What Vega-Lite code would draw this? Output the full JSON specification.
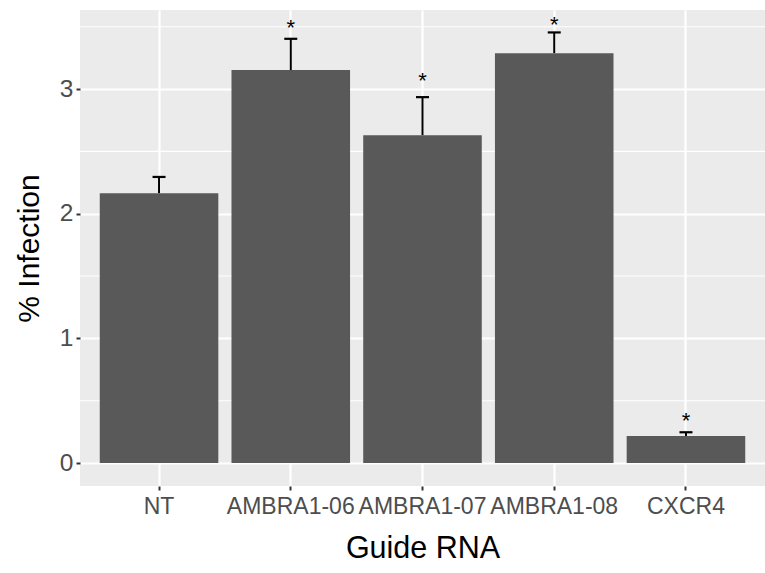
{
  "$schema": "https://vega.github.io/schema/vega-lite/v6.json",
  "width": 685,
  "height": 476,
  "autosize": {"type": "none"},
  "padding": {"left": 80, "top": 10, "right": 0, "bottom": 87},
  "background": "white",
  "config": {
    "view": {"fill": "#EBEBEB", "stroke": null},
    "font": "Liberation Sans"
  },
  "data": {
    "values": [
      {"guide": "NT", "val": 2.165, "upper": 2.295, "sig": "", "star": 2.4},
      {"guide": "AMBRA1-06", "val": 3.152, "upper": 3.403, "sig": "*", "star": 3.53},
      {"guide": "AMBRA1-07", "val": 2.63, "upper": 2.935, "sig": "*", "star": 3.11},
      {"guide": "AMBRA1-08", "val": 3.288, "upper": 3.454, "sig": "*", "star": 3.56},
      {"guide": "CXCR4", "val": 0.217, "upper": 0.247, "sig": "*", "star": 0.38}
    ]
  },
  "layer": [
    {
      "data": {"values": [{"m": 0.5}, {"m": 1.5}, {"m": 2.5}, {"m": 3.5}]},
      "mark": {"type": "rule", "color": "white", "strokeWidth": 1.1},
      "encoding": {
        "y": {
          "field": "m", "type": "quantitative",
          "scale": {"domain": [-0.184, 3.634], "nice": false, "zero": false},
          "axis": {
            "title": "% Infection", "values": [0, 1, 2, 3], "format": "d",
            "grid": true, "gridColor": "white", "gridWidth": 2.2,
            "domain": false, "tickColor": "#333333", "tickSize": 4, "tickWidth": 2,
            "labelFontSize": 24.5, "labelColor": "#4D4D4D", "labelPadding": 3,
            "titleFontSize": 30, "titleFontWeight": "normal", "titleColor": "black", "titlePadding": 15
          }
        }
      }
    },
    {
      "mark": {"type": "bar", "color": "#595959"},
      "encoding": {
        "x": {
          "field": "guide", "type": "nominal", "sort": null,
          "scale": {"paddingInner": 0.1, "paddingOuter": 0.15},
          "axis": {
            "title": "Guide RNA", "labelAngle": 0, "bandPosition": 0.5,
            "grid": true, "gridColor": "white", "gridWidth": 2.2,
            "domain": false, "tickColor": "#333333", "tickSize": 4, "tickWidth": 2,
            "labelFontSize": 23, "labelColor": "#4D4D4D", "labelPadding": 5,
            "titleFontSize": 30.5, "titleFontWeight": "normal", "titleColor": "black", "titlePadding": 15
          }
        },
        "y": {
          "field": "val", "type": "quantitative",
          "scale": {"domain": [-0.184, 3.634], "nice": false, "zero": false}
        }
      }
    },
    {
      "mark": {"type": "rule", "color": "black", "strokeWidth": 2},
      "encoding": {
        "x": {"field": "guide", "type": "nominal", "sort": null},
        "y": {"field": "val", "type": "quantitative", "scale": {"domain": [-0.184, 3.634], "nice": false, "zero": false}},
        "y2": {"field": "upper"}
      }
    },
    {
      "mark": {"type": "tick", "orient": "horizontal", "size": 13, "thickness": 2.2, "color": "black", "opacity": 1},
      "encoding": {
        "x": {"field": "guide", "type": "nominal", "sort": null},
        "y": {"field": "upper", "type": "quantitative", "scale": {"domain": [-0.184, 3.634], "nice": false, "zero": false}}
      }
    },
    {
      "transform": [{"filter": "datum.sig != ''"}],
      "mark": {"type": "text", "fontSize": 22, "color": "black", "baseline": "alphabetic", "dy": 12.5},
      "encoding": {
        "x": {"field": "guide", "type": "nominal", "sort": null},
        "y": {"field": "star", "type": "quantitative", "scale": {"domain": [-0.184, 3.634], "nice": false, "zero": false}},
        "text": {"field": "sig"}
      }
    }
  ]
}
